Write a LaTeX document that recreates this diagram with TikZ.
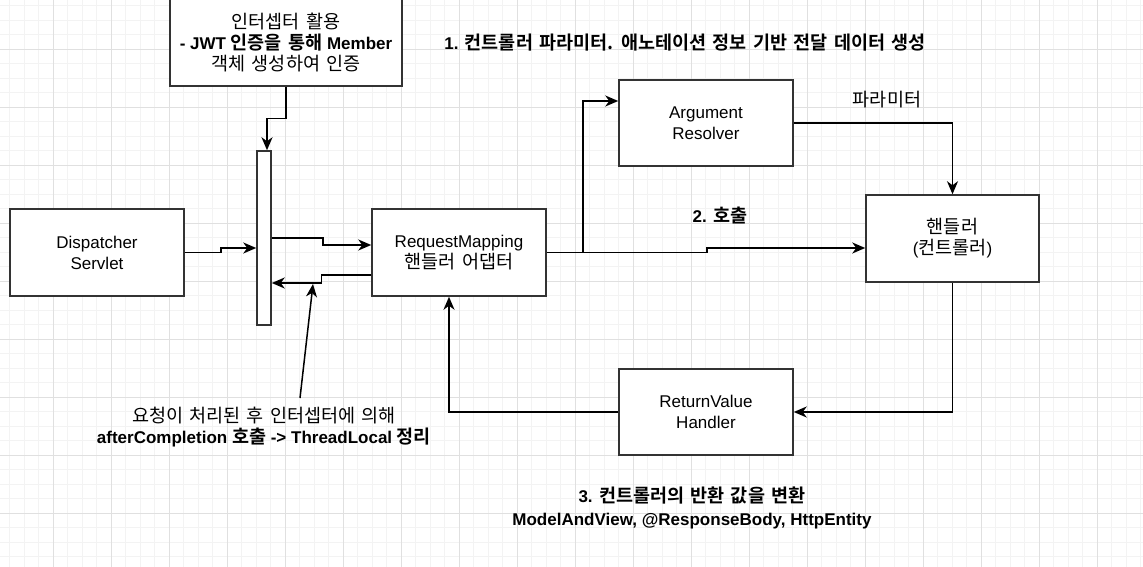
\documentclass[tikz,border=0pt]{standalone}
\usepackage{fontspec}
\setmainfont{Liberation Sans}
\newfontfamily\kr{Noto Sans CJK KR}[BoldFont={Noto Sans CJK KR Bold},Scale=1.09,WordSpace=1.5]
\usetikzlibrary{arrows.meta,calc}
\newcommand{\K}[1]{{\kr #1}}
\definecolor{gminor}{HTML}{F3F3F3}
\definecolor{gmajor}{HTML}{E0E0E0}
\definecolor{edge}{HTML}{333333}
\tikzset{
  gridminor/.style={draw=gminor, line width=1pt},
  gridmajor/.style={draw=gmajor, line width=1pt},
  box/.style={draw=edge, line width=1.5pt, fill=white, inner sep=0pt, align=center,
    font=\fontsize{17}{21}\selectfont},
  txt/.style={inner sep=0pt, align=center, font=\fontsize{17}{21}\selectfont},
  arr/.style={draw=black, line width=1.5pt, -{Stealth[length=13pt,width=11pt,inset=4pt]}},
}
\begin{document}
\begin{tikzpicture}[x=1pt,y=-1pt]
\useasboundingbox (0,0) rectangle (1143,567);
\clip (0,0) rectangle (1143,567);
\fill[white] (0,0) rectangle (1143,567);
% grid
\foreach \i in {-4,...,76} {\draw[gridminor] ({53.3+14.5*\i},0) -- ++(0,567);}
\foreach \i in {-4,...,36} {\draw[gridminor] (0,{49.3+14.5*\i}) -- ++(1143,0);}
\foreach \i in {-1,...,19} {\draw[gridmajor] ({53.3+58*\i},0) -- ++(0,567);}
\foreach \i in {-1,...,9} {\draw[gridmajor] (0,{49.3+58*\i}) -- ++(1143,0);}

% boxes
\node[box, minimum width=232, minimum height=88] (ibox) at (286,42)
  {\K{인터셉터 활용}\\\textbf{- JWT \K{인증을 통해} Member}\\\K{객체 생성하여 인증}};
\node[box, minimum width=14, minimum height=174] (bar) at (264,238) {};
\node[box, minimum width=174, minimum height=87] (ds) at (97,252.5) {Dispatcher\\Servlet};
\node[box, minimum width=174, minimum height=87] (rm) at (459,252.5) {RequestMapping\\\K{핸들러 어댑터}};
\node[box, minimum width=174, minimum height=86] (ar) at (706,123) {Argument\\Resolver};
\node[box, minimum width=173, minimum height=87] (h) at (952.5,238.5) {\K{핸들러}\\(\K{컨트롤러})};
\node[box, minimum width=174, minimum height=86] (rvh) at (706,412) {ReturnValue\\Handler};

% labels
\node[txt, font=\fontsize{17}{21}\selectfont\bfseries] (t1) at (685,43)
  {1. \K{컨트롤러 파라미터. 애노테이션 정보 기반 전달 데이터 생성}};
\node[txt] (tparam) at (887,100) {\K{파라미터}};
\node[txt, font=\fontsize{17}{21}\selectfont\bfseries] (t2) at (720,216) {2. \K{호출}};
\node[txt, font=\fontsize{17}{23}\selectfont\bfseries] (t3) at (692,507.5)
  {3. \K{컨트롤러의 반환 값을 변환}\\ModelAndView, @ResponseBody, HttpEntity};
\node[txt] (ann) at (264,427.5)
  {\K{요청이 처리된 후 인터셉터에 의해}\\\textbf{afterCompletion \K{호출} -> ThreadLocal \K{정리}}};

% connectors
\draw[arr] (ibox.south) -- ++(0,32) -| ([xshift=3pt]bar.north);
\draw[arr] (ds.east) -- ++(36,0) |- ([yshift=-10pt]bar.west);
\draw[arr] (bar.east) -- ++(51,0) |- ([yshift=7.5pt]rm.west);
\draw[arr] ([yshift=-22.5pt]rm.west) -- ++(-50,0) |- ([yshift=-45pt]bar.east);
\coordinate (a1) at (300,398);
\coordinate (a2) at (313,284);
\draw[arr] (a1) -- (a2);
\draw[arr] (rm.east) -- ++(36,0) |- ([yshift=22pt]ar.west);
\draw[arr] (rm.east) -- ++(160,0) |- ([yshift=-9.5pt]h.west);
\draw[arr] (ar.east) -| (h.north);
\draw[arr] (h.south) |- (rvh.east);
\draw[arr] (rvh.west) -| ([xshift=-10pt]rm.south);
\end{tikzpicture}
\end{document}
